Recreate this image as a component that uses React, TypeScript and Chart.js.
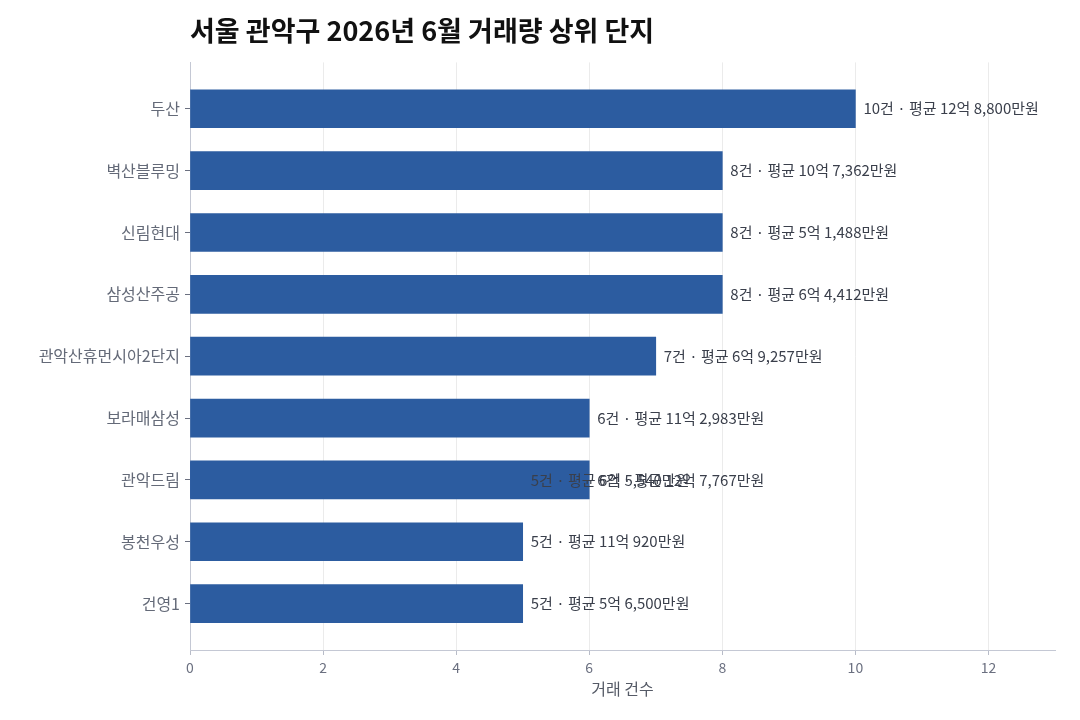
import { useEffect, useRef } from 'react'
import { Chart, registerables } from 'chart.js'
Chart.register(...registerables)

const TITLE = '서울 관악구 2026년 6월 거래량 상위 단지'
const X_TITLE = '거래 건수'

// 단지명 (위에서 아래 순)
const NAMES = ['두산', '벽산블루밍', '신림현대', '삼성산주공', '관악산휴먼시아2단지', '보라매삼성', '관악드림', '봉천우성', '건영1']
const COUNTS = [10, 8, 8, 8, 7, 6, 6, 5, 5]
const AVG_LABELS = ['12억 8,800만원', '10억 7,362만원', '5억 1,488만원', '6억 4,412만원', '6억 9,257만원', '11억 2,983만원', '12억 7,767만원', '11억 920만원', '5억 6,500만원']
const X_TICKS = [0, 2, 4, 6, 8, 10, 12]

// 같은 이름의 두 번째 관악드림 (막대 뒤에 겹쳐 그려짐)
const DUP_INDEX = 6
const DUP_COUNT = 5
const DUP_AVG = '6억 5,540만원'

const BAR = '#2c5ca0'
const FONT = "'Noto Sans CJK KR', 'Noto Sans', sans-serif"

const valueLabels = {
  id: 'valueLabels',
  afterDatasetsDraw(chart: any) {
    const ctx = chart.ctx
    ctx.save()
    ctx.font = `15px ${FONT}`
    ctx.fillStyle = '#3a3f4b'
    ctx.textBaseline = 'middle'
    ctx.textAlign = 'left'
    chart.data.datasets.forEach((ds: any, di: number) => {
      const meta = chart.getDatasetMeta(di)
      meta.data.forEach((el: any, i: number) => {
        const p = ds.data[i]
        if (!p) return
        ctx.fillText(`${p.x}건 · 평균 ${p.avg}`, el.x + 8, el.y)
      })
    })
    ctx.restore()
  },
}

export default function App() {
  const ref = useRef<HTMLCanvasElement>(null)

  useEffect(() => {
    document.body.style.margin = '0'
    if (!ref.current) return
    const main = COUNTS.map((c, i) => ({ x: c, y: i, avg: AVG_LABELS[i] }))
    const dup = [{ x: DUP_COUNT, y: DUP_INDEX, avg: DUP_AVG }]
    const chart = new Chart(ref.current, {
      type: 'bar',
      data: {
        datasets: [
          { data: dup as any, backgroundColor: BAR, barThickness: 36, grouped: false, order: 2 },
          { data: main as any, backgroundColor: BAR, barThickness: 38, grouped: false, order: 1 },
        ],
      },
      plugins: [valueLabels],
      options: {
        indexAxis: 'y',
        animation: false,
        responsive: false,
        layout: { padding: { top: 0, right: 25, bottom: 17, left: 0 } },
        plugins: {
          legend: { display: false },
          tooltip: { enabled: false },
          title: {
            display: true,
            text: TITLE,
            align: 'start',
            fullSize: false,
            color: '#111',
            font: { family: FONT, size: 27, weight: 'bold' },
            padding: { top: 15, bottom: 15 },
          },
        },
        scales: {
          x: {
            type: 'linear',
            min: 0,
            max: 13,
            afterBuildTicks: (s: any) => { s.ticks = X_TICKS.map(v => ({ value: v })) },
            ticks: { color: '#6b7080', font: { family: FONT, size: 14 }, padding: 4 },
            grid: { color: '#ebebeb', tickColor: '#b8bcc8', tickLength: 5 },
            border: { color: '#c4c8d4' },
            title: { display: true, text: X_TITLE, color: '#555a66', font: { family: FONT, size: 16 }, padding: { top: 2 } },
            afterFit: (s: any) => { s.height = 53 },
          },
          y: {
            type: 'linear',
            reverse: true,
            offset: false,
            min: -0.75,
            max: 8.75,
            afterBuildTicks: (s: any) => { s.ticks = NAMES.map((_, i) => ({ value: i })) },
            ticks: {
              color: '#646a78',
              font: { family: FONT, size: 16 },
              padding: 5,
              autoSkip: false,
              callback: (v: any) => NAMES[v] ?? '',
            },
            grid: { offset: false, drawOnChartArea: false, tickColor: '#6b7080', tickLength: 5 },
            border: { color: '#c4c8d4' },
            afterFit: (s: any) => { s.width = 190 },
          },
        },
      },
    })
    return () => chart.destroy()
  }, [])

  return (
    <div style={{ width: 1080, height: 720, background: '#fff' }}>
      <canvas ref={ref} width={1080} height={720} />
    </div>
  )
}
